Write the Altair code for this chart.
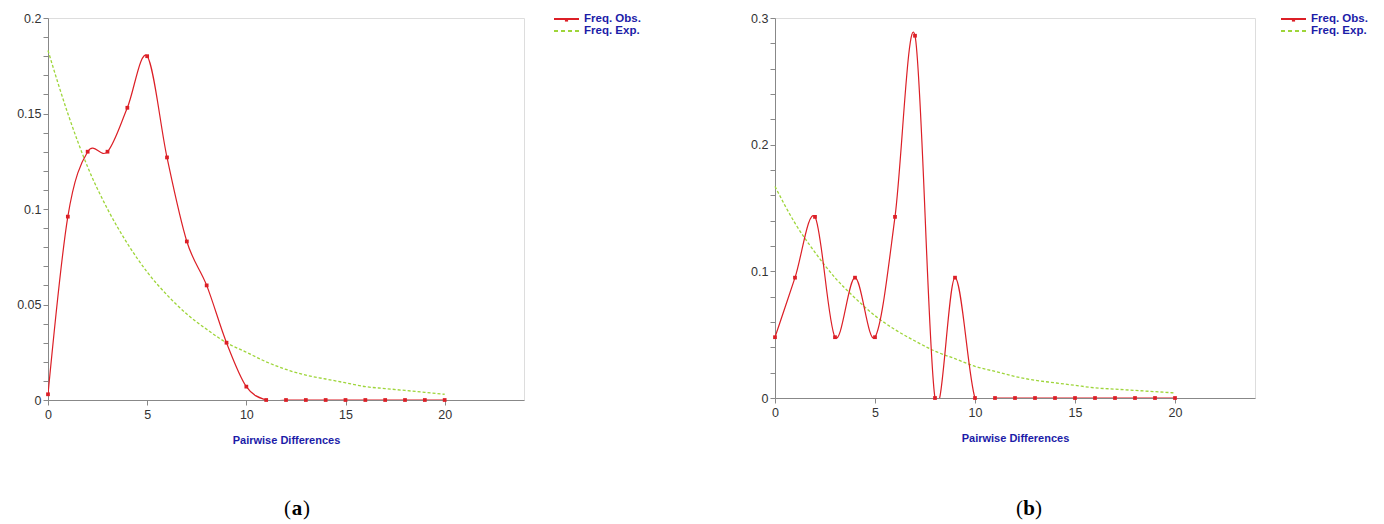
import altair as alt
import pandas as pd

x_vals = list(range(0, 21))

obs_a = [0.003, 0.096, 0.130, 0.130, 0.153, 0.180, 0.127, 0.083, 0.060, 0.030, 0.007,
         0, 0, 0, 0, 0, 0, 0, 0, 0, 0]
exp_a = [0.183, 0.150, 0.122, 0.100, 0.082, 0.067, 0.055, 0.045, 0.037, 0.030, 0.025,
         0.020, 0.016, 0.013, 0.011, 0.009, 0.007, 0.006, 0.005, 0.004, 0.003]

obs_b = [0.048, 0.095, 0.143, 0.048, 0.095, 0.048, 0.143, 0.286, 0.0, 0.095, 0.0,
         0, 0, 0, 0, 0, 0, 0, 0, 0, 0]
exp_b = [0.167, 0.138, 0.115, 0.095, 0.079, 0.065, 0.054, 0.045, 0.037, 0.031, 0.025,
         0.021, 0.017, 0.014, 0.012, 0.010, 0.008, 0.007, 0.006, 0.005, 0.004]

x_ticks = [0, 5, 10, 15, 20]
y_ticks_a = [round(i * 0.01, 2) for i in range(0, 21)]
y_ticks_b = [round(i * 0.02, 2) for i in range(0, 16)]

legend_labels = ["Freq. Obs.", "Freq. Exp."]

RED = "#dc1f26"
GREEN = "#9ed53a"
BLUE = "#1c1ca8"
LABEL_FONT = "Liberation Sans"


def panel(obs, exp, ymax, yvals, major_mod, letter, w, h, cx):
    df = pd.DataFrame({"x": x_vals, "obs": obs, "exp": exp})
    one = pd.DataFrame({"k": [0]})
    xs = alt.Scale(domain=[0, 24], nice=False, zero=False)
    ys = alt.Scale(domain=[0, ymax], nice=False)
    xaxis = alt.Axis(values=x_ticks, tickCount=40, format="d", grid=False, tickSize=5,
                     labelFlush=False,
                     labelFontSize=12.5, labelFont=LABEL_FONT, labelColor="#333333",
                     labelPadding=3,
                     title="Pairwise Differences", titleFontWeight="bold",
                     titleColor=BLUE, titleFontSize=11, titlePadding=14,
                     titleFont=LABEL_FONT)
    yaxis = alt.Axis(values=yvals, tickCount=40, grid=False, tickSize=5, tickWidth=1,
                     labelFlush=False,
                     labelOverlap=False, title="", format="~g",
                     labelFontSize=12.5, labelFont=LABEL_FONT, labelColor="#333333",
                     labelPadding=2,
                     labelExpr=f"(round(datum.value*1000) % {major_mod} == 0) ? datum.label : ''")
    base = alt.Chart(df)
    exp_line = base.mark_line(color=GREEN, strokeWidth=1.3, strokeDash=[3, 2],
                              interpolate="monotone").encode(
        x=alt.X("x:Q", scale=xs, axis=xaxis),
        y=alt.Y("exp:Q", scale=ys, axis=yaxis))
    obs_line = base.mark_line(color=RED, strokeWidth=1.2, interpolate="cardinal",
                              clip=True).encode(
        x=alt.X("x:Q", scale=xs), y=alt.Y("obs:Q", scale=ys))
    obs_pts = base.mark_square(color=RED, size=14, opacity=1).encode(
        x=alt.X("x:Q", scale=xs), y=alt.Y("obs:Q", scale=ys))

    lg = alt.Chart(one)
    lx0, lx1, ltx = 506, 531, 536
    l1 = lg.mark_rule(color=RED, strokeWidth=2).encode(
        x=alt.value(lx0), x2=alt.value(lx1), y=alt.value(1))
    l1p = lg.mark_square(color=RED, size=10, opacity=1).encode(
        x=alt.value((lx0 + lx1) / 2), y=alt.value(2))
    l2 = lg.mark_rule(color=GREEN, strokeWidth=2, strokeDash=[4, 3]).encode(
        x=alt.value(lx0), x2=alt.value(lx1), y=alt.value(13))
    t1 = lg.mark_text(text=legend_labels[0], align="left", baseline="middle",
                      fontWeight="bold", fontSize=11.5, color=BLUE,
                      font=LABEL_FONT).encode(x=alt.value(ltx), y=alt.value(1))
    t2 = lg.mark_text(text=legend_labels[1], align="left", baseline="middle",
                      fontWeight="bold", fontSize=11.5, color=BLUE,
                      font=LABEL_FONT).encode(x=alt.value(ltx), y=alt.value(13))

    c1 = lg.mark_text(text="(", align="right", baseline="middle", fontSize=21,
                      font="Liberation Serif", color="black").encode(
        x=alt.value(cx - 6), y=alt.value(491))
    c2 = lg.mark_text(text=letter, align="center", baseline="middle", fontSize=21,
                      fontWeight="bold", font="Liberation Serif", color="black").encode(
        x=alt.value(cx), y=alt.value(491))
    c3 = lg.mark_text(text=")", align="left", baseline="middle", fontSize=21,
                      font="Liberation Serif", color="black").encode(
        x=alt.value(cx + 6), y=alt.value(491))

    return alt.layer(exp_line, obs_line, obs_pts, l1, l1p, l2, t1, t2, c1, c2, c3).properties(
        width=w, height=h)


pa = panel(obs_a, exp_a, 0.2, y_ticks_a, 50, "a", 476, 382, 249)
pb = panel(obs_b, exp_b, 0.3, y_ticks_b, 100, "b", 480, 380, 254)

chart = alt.hconcat(pa, pb, spacing=108).properties(
    padding={"left": 8, "top": 3, "right": 5, "bottom": 5}
).configure_view(stroke="black", strokeWidth=1).configure_axis(
    domainColor="black", tickColor="black"
).configure(background="white")

chart.save("out.html", embed_options={"renderer": "svg", "actions": False})
